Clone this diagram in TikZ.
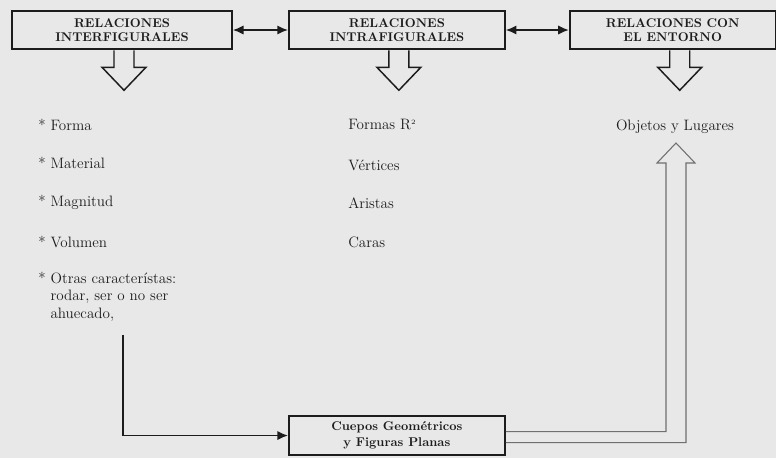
\documentclass[tikz,border=0pt]{standalone}
\usepackage{xcolor}
\usepackage{tikz}
\usetikzlibrary{positioning, arrows.meta, calc}
\definecolor{paper}{HTML}{E8E8E8}
\definecolor{ink}{HTML}{1C1C1C}
\definecolor{greyline}{HTML}{707070}

\begin{document}
\begin{tikzpicture}[
  x=0.75pt, y=-0.75pt,
  every node/.style={text=ink},
  relbox/.style={
    draw=ink,
    line width=1.4pt,
    fill=paper,
    minimum height=29pt,
    align=center,
    inner sep=2pt,
    font=\fontsize{9.5}{10}\selectfont\bfseries,
  },
  item/.style={
    anchor=west,
    inner sep=0pt,
    align=left,
    font=\fontsize{11.3}{13}\selectfont,
  },
  link/.style={
    -{Latex[length=8pt,width=7pt]},
    line width=1.1pt,
    draw=ink,
  },
  dlink/.style={
    {Latex[length=8pt,width=7pt]}-{Latex[length=8pt,width=7pt]},
    line width=1.1pt,
    draw=ink,
  },
  hollow/.style={
    draw=ink,
    line width=1.1pt,
    line join=miter,
  },
  greyhollow/.style={
    draw=greyline,
    line width=0.8pt,
    line join=miter,
  },
]
  % paper
  \fill[paper] (0,0) rectangle (776,458);
  \useasboundingbox (0,0) rectangle (776,458);

  % top row
  \node[relbox, minimum width=165pt] (inter) at (122,30) {RELACIONES\\INTERFIGURALES};
  \node[relbox, minimum width=162pt, right=41.25pt of inter] (intra) {RELACIONES\\INTRAFIGURALES};
  \node[relbox, minimum width=154.5pt, right=47.25pt of intra] (entorno) {RELACIONES CON\\EL ENTORNO};

  \draw[dlink] (inter) -- (intra);
  \draw[dlink] (intra) -- (entorno);

  % hollow arrows below the boxes
  \foreach \b/\dx in {inter/2, intra/2, entorno/7}
    \draw[hollow] ($(\b.south)+(\dx-10,0)$) -- ++(0,17) -- ++(-12,0) -- ++(22,23)
      -- ++(22,-23) -- ++(-12,0) -- ++(0,-17);

  % interfigurales
  \node[item] (forma) at (38,125) {* Forma};
  \node[item] (material) at (38,163) {* Material};
  \node[item] (magnitud) at (38,202) {* Magnitud};
  \node[item] (volumen) at (38,242) {* Volumen};
  \node[item, anchor=north west] (otras) at (38,272) {* Otras característas:\\
    \hphantom{*\ }rodar, ser o no ser\\ \hphantom{*\ }ahuecado,};

  % intrafigurales
  \node[item] (formas) at (348,125) {Formas R\textsuperscript{\tiny 2}};
  \node[item] (vertices) at (348,165) {Vértices};
  \node[item] (aristas) at (348,203) {Aristas};
  \node[item] (caras) at (348,242) {Caras};

  % entorno
  \node[item, anchor=center] (objetos) at (675,127) {Objetos y Lugares};

  % bottom box
  \node[relbox, minimum width=162pt, below=273.75pt of intra,
        font=\fontsize{9.5}{12}\selectfont\bfseries] (cuerpos) {Cuepos Geométricos\\y Figuras Planas};

  \coordinate (otrasend) at (123,335);
  \coordinate (uptip) at (676,143);

  \draw[link] (otrasend) |- (cuerpos.west);

  \draw[greyhollow] ($(cuerpos.east)+(0,7)$) -| ($(uptip)+(10,20)$) -- ++(9,0) -- (uptip)
    -- ++(-19,20) -- ++(9,0) |- ($(cuerpos.east)+(0,-4)$);
\end{tikzpicture}
\end{document}
